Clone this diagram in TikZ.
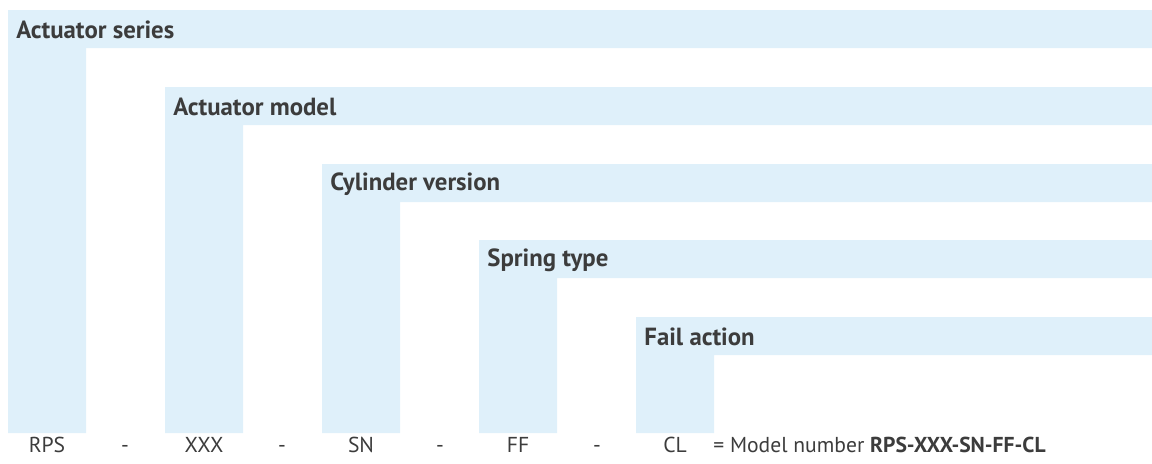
\documentclass[tikz,border=0pt]{standalone}
\usepackage{fontspec}
\setmainfont{PT Sans}
\definecolor{bandblue}{RGB}{223,240,250}
\definecolor{txtgray}{RGB}{60,60,60}
\tikzset{
	band/.style={fill=bandblue},
	title/.style={anchor=west,inner sep=0pt,text=txtgray,font=\bfseries\fontsize{12.4}{14}\selectfont},
	code/.style={anchor=base,inner sep=0pt,text=txtgray,font=\fontsize{10.8}{13}\selectfont}
}
\begin{document}
\begin{tikzpicture}[x=0.5pt,y=-0.5pt]
		
		\useasboundingbox (0,0) rectangle (1152,463);
		\fill[band] (8,10) -- (1152,10) -- (1152,48) -- (86,48) -- (86,433) -- (8,433) -- cycle;
		\fill[band] (165,87) -- (1152,87) -- (1152,125) -- (243,125) -- (243,433) -- (165,433) -- cycle;
		\fill[band] (322,164) -- (1152,164) -- (1152,202) -- (400,202) -- (400,433) -- (322,433) -- cycle;
		\fill[band] (479,240) -- (1152,240) -- (1152,278) -- (557,278) -- (557,433) -- (479,433) -- cycle;
		\fill[band] (636,317) -- (1152,317) -- (1152,355) -- (714,355) -- (714,433) -- (636,433) -- cycle;
		
		\node[title] (series) at (16,30) {Actuator series};
		\node[title] (model) at (173,107) {Actuator model};
		\node[title] (cylinder) at (330,184) {Cylinder version};
		\node[title] (spring) at (487,260) {Spring type};
		\node[title] (fail) at (644,337) {Fail action};
		
		\node[code] (rps) at (47,452) {RPS};
		\node[code] (dash1) at (125,452) {-};
		\node[code] (xxx) at (204,452) {XXX};
		\node[code] (dash2) at (282,452) {-};
		\node[code] (sn) at (361,452) {SN};
		\node[code] (dash3) at (440,452) {-};
		\node[code] (ff) at (518,452) {FF};
		\node[code] (dash4) at (597,452) {-};
		\node[code] (cl) at (675,452) {CL};
		\node[code,anchor=base west] (result) at (713,452) {= Model number \textbf{RPS-XXX-SN-FF-CL}};
		\end{tikzpicture}
\end{document}
